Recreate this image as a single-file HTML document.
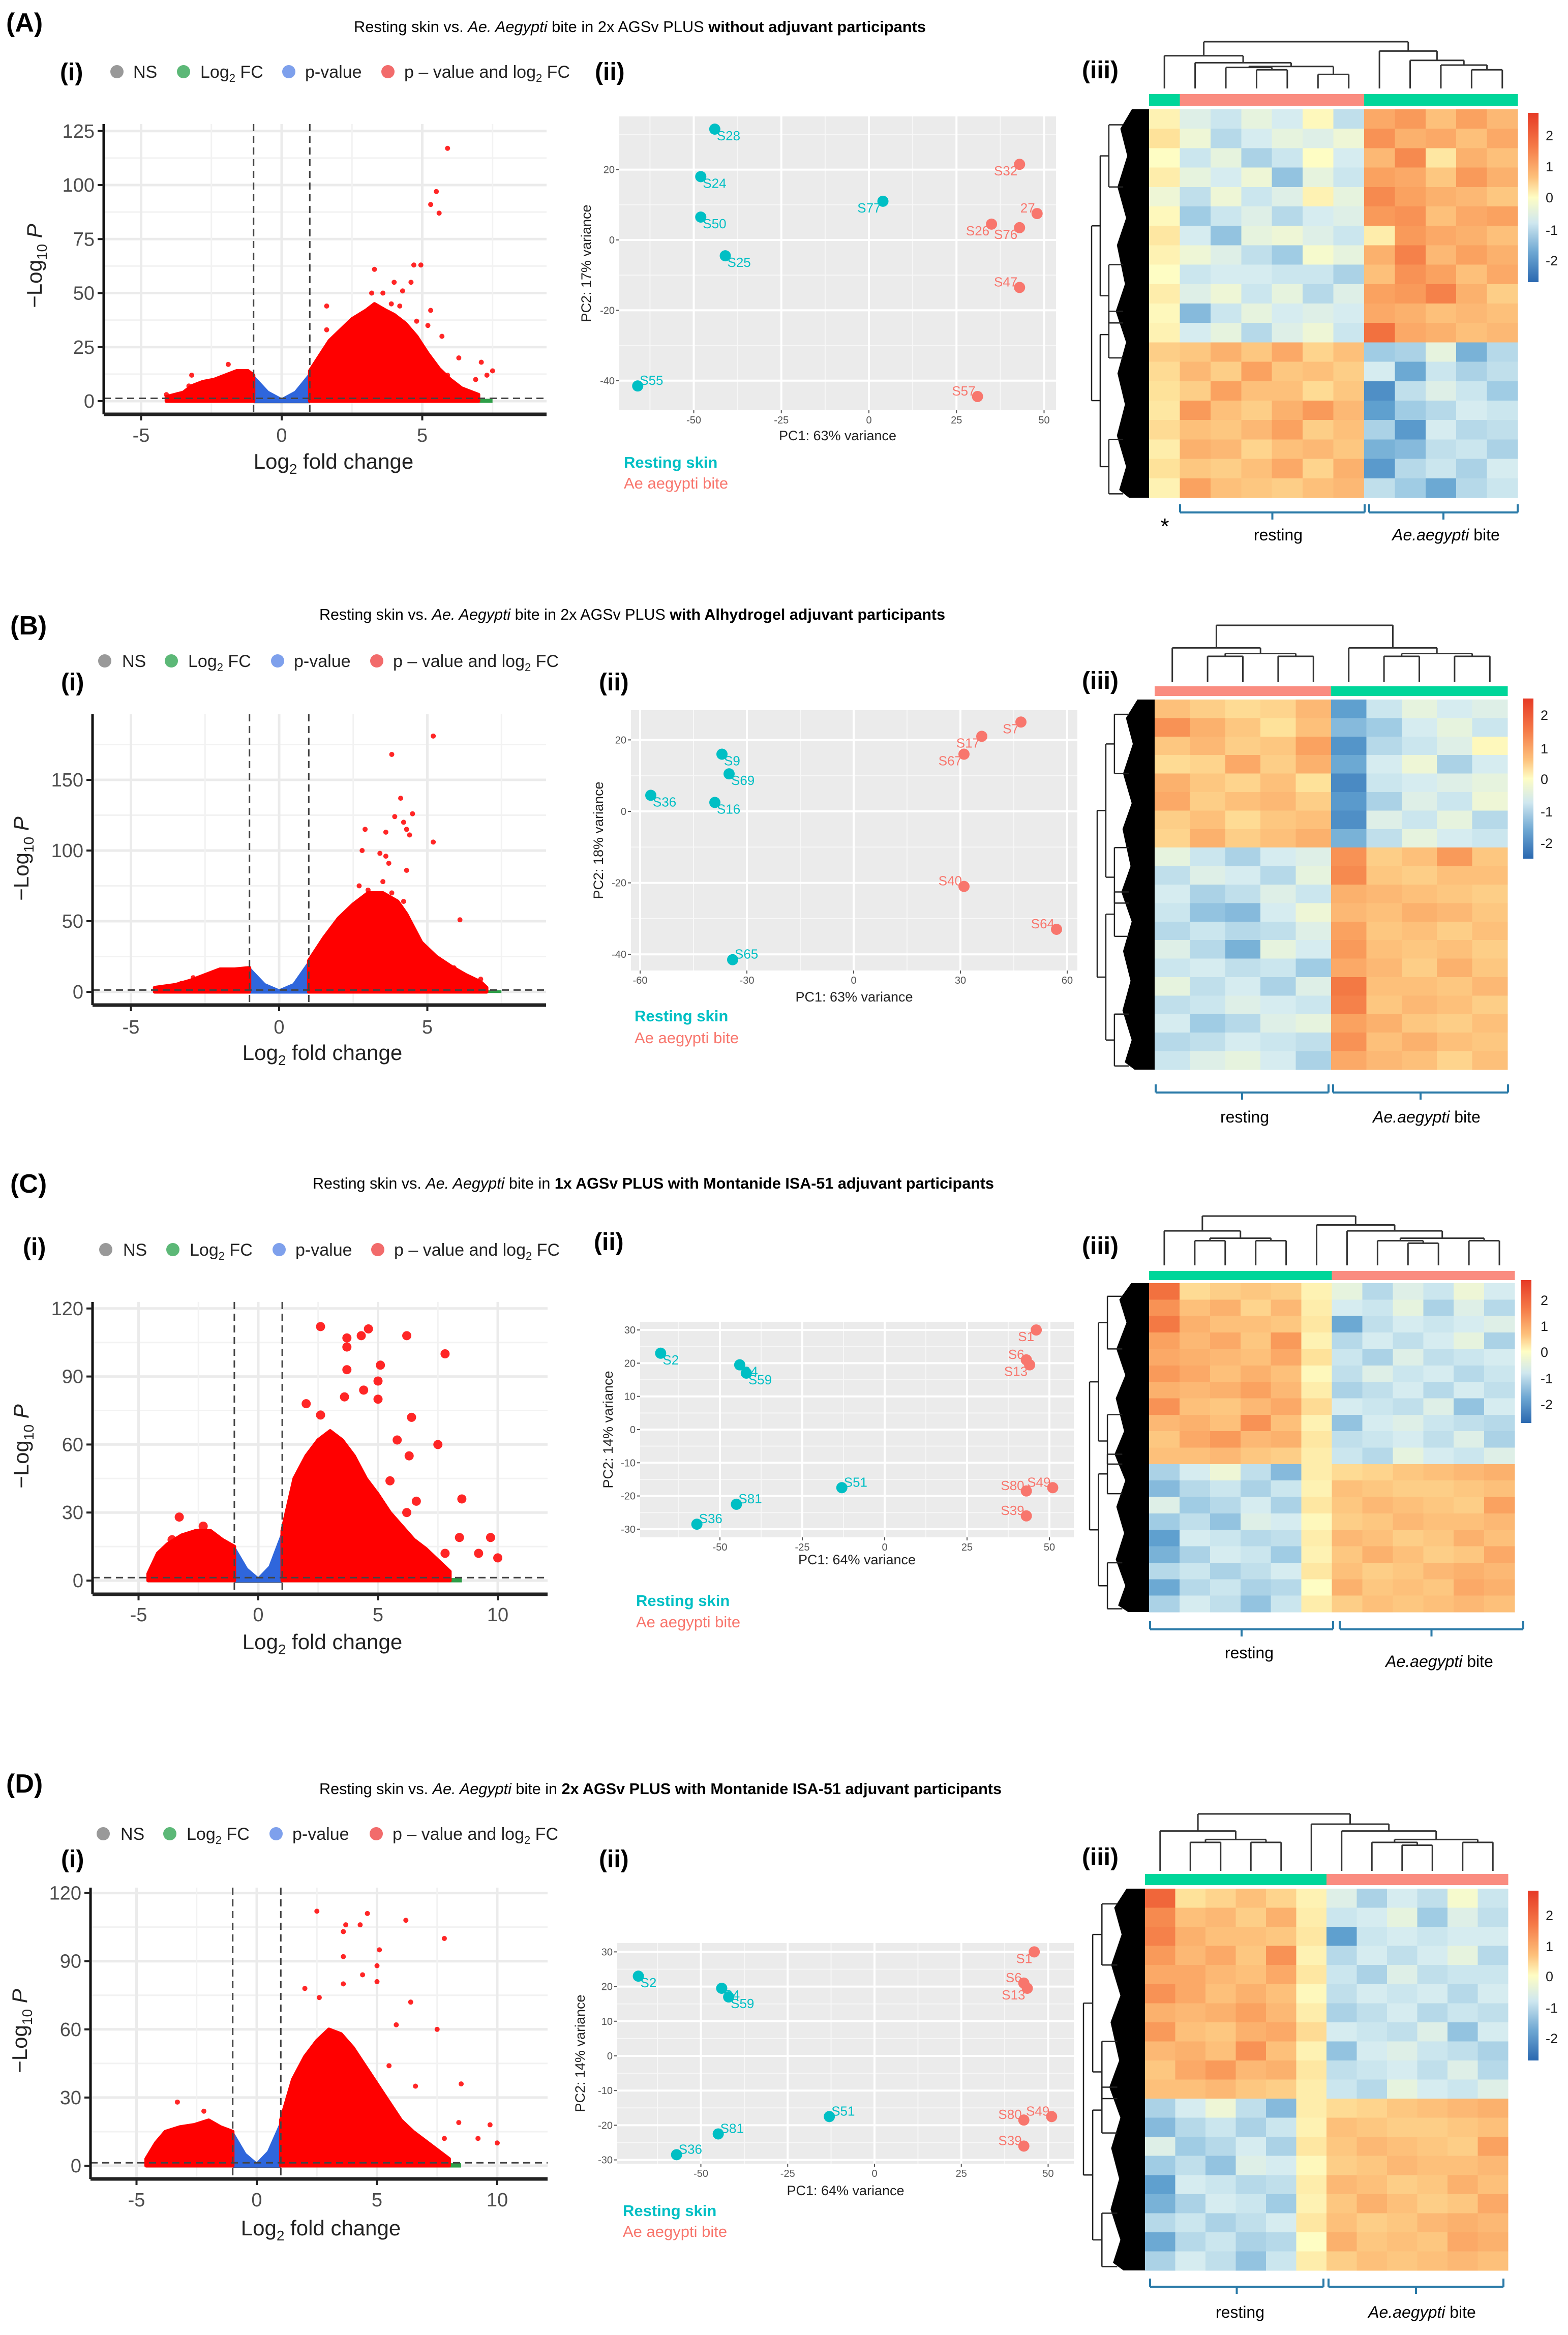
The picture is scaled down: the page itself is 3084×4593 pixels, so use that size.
<!DOCTYPE html>
<html>
<head>
<meta charset="utf-8">
<style>
html,body{margin:0;padding:0;background:#fff;}
svg{display:block;font-family:"Liberation Sans",sans-serif;}
.narrow{font-family:"Liberation Sans Narrow","Liberation Sans",sans-serif;}
</style>
</head>
<body>
<svg id="fig" xmlns="http://www.w3.org/2000/svg" width="3084" height="4593" viewBox="0 0 3084 4593">
<rect x="0" y="0" width="3084" height="4593" fill="#fff"/>

<text x="12" y="62" font-size="52" font-weight="bold">(A)</text>
<text class="narrow" x="696" y="63" font-size="31" textLength="1125" lengthAdjust="spacingAndGlyphs">Resting skin vs. <tspan font-style="italic">Ae. Aegypti</tspan> bite in 2x AGSv PLUS <tspan font-weight="bold">without adjuvant participants</tspan></text>

<text x="20" y="1248" font-size="52" font-weight="bold">(B)</text>
<text class="narrow" x="628" y="1219" font-size="31" textLength="1231" lengthAdjust="spacingAndGlyphs">Resting skin vs. <tspan font-style="italic">Ae. Aegypti</tspan> bite in 2x AGSv PLUS <tspan font-weight="bold">with Alhydrogel adjuvant participants</tspan></text>

<text x="20" y="2346" font-size="52" font-weight="bold">(C)</text>
<text class="narrow" x="615" y="2338" font-size="31" textLength="1340" lengthAdjust="spacingAndGlyphs">Resting skin vs. <tspan font-style="italic">Ae. Aegypti</tspan> bite in <tspan font-weight="bold">1x AGSv PLUS with Montanide ISA-51 adjuvant participants</tspan></text>

<text x="12" y="3526" font-size="52" font-weight="bold">(D)</text>
<text class="narrow" x="628" y="3529" font-size="31" textLength="1342" lengthAdjust="spacingAndGlyphs">Resting skin vs. <tspan font-style="italic">Ae. Aegypti</tspan> bite in <tspan font-weight="bold">2x AGSv PLUS with Montanide ISA-51 adjuvant participants</tspan></text>

<text x="118" y="158" font-size="48" font-weight="bold">(i)</text>
<text x="1170" y="157" font-size="48" font-weight="bold">(ii)</text>
<text x="2128" y="154" font-size="48" font-weight="bold">(iii)</text>
<text x="120" y="1358" font-size="48" font-weight="bold">(i)</text>
<text x="1178" y="1358" font-size="48" font-weight="bold">(ii)</text>
<text x="2128" y="1355" font-size="48" font-weight="bold">(iii)</text>
<text x="45" y="2469" font-size="48" font-weight="bold">(i)</text>
<text x="1168" y="2459" font-size="48" font-weight="bold">(ii)</text>
<text x="2128" y="2467" font-size="48" font-weight="bold">(iii)</text>
<text x="120" y="3673" font-size="48" font-weight="bold">(i)</text>
<text x="1178" y="3673" font-size="48" font-weight="bold">(ii)</text>
<text x="2128" y="3669" font-size="48" font-weight="bold">(iii)</text>

<g class="narrow" font-size="34" fill="#222">
  <circle cx="230" cy="141" r="13" fill="#999"/>
  <text x="262" y="153">NS</text>
  <circle cx="361" cy="141" r="13" fill="#5cb877"/>
  <text x="394" y="153">Log<tspan font-size="22" dy="8">2</tspan><tspan dy="-8"> FC</tspan></text>
  <circle cx="568" cy="141" r="13" fill="#7ea0ec"/>
  <text x="600" y="153">p-value</text>
  <circle cx="763" cy="141" r="13" fill="#f26b6b"/>
  <text x="795" y="153">p – value and log<tspan font-size="22" dy="8">2</tspan><tspan dy="-8"> FC</tspan></text>
</g>
<g class="narrow" font-size="34" fill="#222">
  <circle cx="206" cy="1300" r="13" fill="#999"/>
  <text x="240" y="1312">NS</text>
  <circle cx="337" cy="1300" r="13" fill="#5cb877"/>
  <text x="370" y="1312">Log<tspan font-size="22" dy="8">2</tspan><tspan dy="-8"> FC</tspan></text>
  <circle cx="546" cy="1300" r="13" fill="#7ea0ec"/>
  <text x="578" y="1312">p-value</text>
  <circle cx="741" cy="1300" r="13" fill="#f26b6b"/>
  <text x="773" y="1312">p – value and log<tspan font-size="22" dy="8">2</tspan><tspan dy="-8"> FC</tspan></text>
</g>
<g class="narrow" font-size="34" fill="#222">
  <circle cx="208" cy="2458" r="13" fill="#999"/>
  <text x="242" y="2470">NS</text>
  <circle cx="340" cy="2458" r="13" fill="#5cb877"/>
  <text x="373" y="2470">Log<tspan font-size="22" dy="8">2</tspan><tspan dy="-8"> FC</tspan></text>
  <circle cx="549" cy="2458" r="13" fill="#7ea0ec"/>
  <text x="581" y="2470">p-value</text>
  <circle cx="743" cy="2458" r="13" fill="#f26b6b"/>
  <text x="775" y="2470">p – value and log<tspan font-size="22" dy="8">2</tspan><tspan dy="-8"> FC</tspan></text>
</g>
<g class="narrow" font-size="34" fill="#222">
  <circle cx="203" cy="3607" r="13" fill="#999"/>
  <text x="237" y="3619">NS</text>
  <circle cx="334" cy="3607" r="13" fill="#5cb877"/>
  <text x="367" y="3619">Log<tspan font-size="22" dy="8">2</tspan><tspan dy="-8"> FC</tspan></text>
  <circle cx="543" cy="3607" r="13" fill="#7ea0ec"/>
  <text x="575" y="3619">p-value</text>
  <circle cx="740" cy="3607" r="13" fill="#f26b6b"/>
  <text x="772" y="3619">p – value and log<tspan font-size="22" dy="8">2</tspan><tspan dy="-8"> FC</tspan></text>
</g>

<text x="656" y="922" font-size="42" text-anchor="middle" fill="#222">Log<tspan font-size="28" dy="10">2</tspan><tspan dy="-10"> fold change</tspan></text>
<text transform="translate(82,523) rotate(-90)" font-size="42" text-anchor="middle" fill="#222">−Log<tspan font-size="28" dy="10">10</tspan><tspan dy="-10"> </tspan><tspan font-style="italic">P</tspan></text>
<text x="634" y="2085" font-size="42" text-anchor="middle" fill="#222">Log<tspan font-size="28" dy="10">2</tspan><tspan dy="-10"> fold change</tspan></text>
<text transform="translate(56,1689) rotate(-90)" font-size="42" text-anchor="middle" fill="#222">−Log<tspan font-size="28" dy="10">10</tspan><tspan dy="-10"> </tspan><tspan font-style="italic">P</tspan></text>
<text x="634" y="3244" font-size="42" text-anchor="middle" fill="#222">Log<tspan font-size="28" dy="10">2</tspan><tspan dy="-10"> fold change</tspan></text>
<text transform="translate(56,2845) rotate(-90)" font-size="42" text-anchor="middle" fill="#222">−Log<tspan font-size="28" dy="10">10</tspan><tspan dy="-10"> </tspan><tspan font-style="italic">P</tspan></text>
<text x="631" y="4397" font-size="42" text-anchor="middle" fill="#222">Log<tspan font-size="28" dy="10">2</tspan><tspan dy="-10"> fold change</tspan></text>
<text transform="translate(53,3995) rotate(-90)" font-size="42" text-anchor="middle" fill="#222">−Log<tspan font-size="28" dy="10">10</tspan><tspan dy="-10"> </tspan><tspan font-style="italic">P</tspan></text>

<text x="1227" y="920" font-size="31" font-weight="bold" fill="#00bfc4">Resting skin</text>
<text x="1227" y="961" font-size="31" fill="#f8766d">Ae aegypti bite</text>
<text x="1248" y="2009" font-size="31" font-weight="bold" fill="#00bfc4">Resting skin</text>
<text x="1248" y="2052" font-size="31" fill="#f8766d">Ae aegypti bite</text>
<text x="1251" y="3159" font-size="31" font-weight="bold" fill="#00bfc4">Resting skin</text>
<text x="1251" y="3201" font-size="31" fill="#f8766d">Ae aegypti bite</text>
<text x="1225" y="4359" font-size="31" font-weight="bold" fill="#00bfc4">Resting skin</text>
<text x="1225" y="4400" font-size="31" fill="#f8766d">Ae aegypti bite</text>

<text x="2291" y="1050" font-size="44" text-anchor="middle">*</text>
<text x="2514" y="1063" font-size="32" text-anchor="middle">resting</text>
<text x="2844" y="1063" font-size="32" text-anchor="middle"><tspan font-style="italic">Ae.aegypti</tspan> bite</text>
<text x="2448" y="2208" font-size="32" text-anchor="middle">resting</text>
<text x="2806" y="2208" font-size="32" text-anchor="middle"><tspan font-style="italic">Ae.aegypti</tspan> bite</text>
<text x="2457" y="3262" font-size="32" text-anchor="middle">resting</text>
<text x="2831" y="3279" font-size="32" text-anchor="middle"><tspan font-style="italic">Ae.aegypti</tspan> bite</text>
<text x="2439" y="4559" font-size="32" text-anchor="middle">resting</text>
<text x="2797" y="4559" font-size="32" text-anchor="middle"><tspan font-style="italic">Ae.aegypti</tspan> bite</text>

<defs>
  <linearGradient id="hmgrad" x1="0" y1="0" x2="0" y2="1">
    <stop offset="0" stop-color="#e63a26"/>
    <stop offset="0.2" stop-color="#f57a48"/>
    <stop offset="0.38" stop-color="#fdc07a"/>
    <stop offset="0.5" stop-color="#fefdc4"/>
    <stop offset="0.65" stop-color="#cfe7ef"/>
    <stop offset="0.82" stop-color="#6fa8d3"/>
    <stop offset="1" stop-color="#2a68b0"/>
  </linearGradient>
</defs>
</svg>

<script>
// ================= DATA =================
const volcA_leftX=[-4.1,-3.5,-3.2,-2.8,-2.4,-2,-1.6,-1.2,-1];
const volcA_leftY=[2,4,7,9,10,12,14,14,12];
const volcA_rightX=[1,1.3,1.7,2.1,2.5,3,3.3,3.7,4,4.4,4.8,5.2,5.6,6,6.4,7];
const volcA_rightY=[14,20,28,33,38,42,45,42,40,36,30,22,15,10,6,3];
const volcA_blueX=[-1,-0.5,0,0.5,1];
const volcA_blueY=[11,4,0.5,4,12];
const volcA_ptsX=[5.9,5.5,5.3,5.6,4.7,4.95,3.3,4.0,4.6,1.6,3.2,3.6,4.3,5.3,4.8,1.6,5.2,5.7,6.3,7.1,7.5,7.3,6.9,5.9,-1.9,-3.2,-3.3,-3.7,-4.1,4.2,2.8,3.9];
const volcA_ptsY=[117,97,91,87,63,63,61,55,55,44,50,50,51,42,37,33,35,30,20,18,14,12,10,12,17,12,7,3,3,44,32,45];
const volcA_xTicks=[-5,0,5];
const volcA_yTicks=[0,25,50,75,100,125];

const volcB_leftX=[-4.2,-3.5,-3,-2.5,-2,-1.5,-1];
const volcB_leftY=[3,5,8,12,16,16,17];
const volcB_rightX=[1,1.5,2,2.5,3,3.5,4,4.3,4.8,5.3,5.8,6.3,6.8,7];
const volcB_rightY=[22,38,52,62,70,70,64,55,35,25,18,12,7,3];
const volcB_blueX=[-1,-0.5,0,0.5,1];
const volcB_blueY=[16,5,0.5,5,20];
const volcB_ptsX=[5.2,3.8,4.1,4.5,3.9,4.2,2.9,3.6,4.4,4.3,5.2,2.8,3.4,3.6,3.7,4.3,3.5,6.1,6.8,2.7,3.0,-2.9,-3.3,6.6,6.9,5.9,4.2,3.8];
const volcB_ptsY=[181,168,137,126,124,120,115,113,111,115,106,100,98,96,91,86,78,51,9,75,72,10,6,7,3,17,64,70];
const volcB_xTicks=[-5,0,5];
const volcB_yTicks=[0,50,100,150];

const volcC_leftX=[-4.6,-4.2,-3.8,-3.2,-2.6,-2,-1.5,-1];
const volcC_leftY=[3,12,16,20,22,22,18,15];
const volcC_rightX=[1,1.5,2,2.5,3,3.5,4,4.5,5,5.5,6,6.5,7,7.5,8];
const volcC_rightY=[22,45,55,62,66,62,55,45,38,30,24,18,14,9,4];
const volcC_blueX=[-1,-0.5,0,0.5,1];
const volcC_blueY=[14,5,0.5,6,20];
const volcC_ptsX=[2.6,4.6,4.3,3.7,6.2,3.7,7.8,3.7,5.1,5.0,4.4,3.6,5.0,2.0,2.6,6.4,7.5,5.8,6.3,8.5,8.4,9.7,10,9.2,7.8,-3.3,-2.3,-3.6,-2.7,6.6,6.2,5.5];
const volcC_ptsY=[112,111,108,107,108,103,100,93,95,88,84,81,80,78,73,72,60,62,55,36,19,19,10,12,12,28,24,18,20,35,30,44];
const volcC_xTicks=[-5,0,5,10];
const volcC_yTicks=[0,30,60,90,120];

const volcD_leftX=[-4.6,-4.2,-3.8,-3.2,-2.6,-2,-1.5,-1];
const volcD_leftY=[3,10,15,17,18,20,17,15];
const volcD_rightX=[1,1.5,2,2.5,3,3.5,4,4.5,5,5.5,6,6.5,7,7.5,8];
const volcD_rightY=[20,38,48,55,60,58,52,44,36,28,20,15,11,7,3];
const volcD_blueX=[-1,-0.5,0,0.5,1];
const volcD_blueY=[14,5,0.5,6,18];
const volcD_ptsX=[2.5,4.6,4.3,3.7,6.2,3.6,7.8,3.6,5.1,5.0,4.4,3.6,5.0,2.0,2.6,6.4,7.5,5.8,8.5,8.4,9.7,10,9.2,7.8,-3.3,-2.2,6.6,5.5];
const volcD_ptsY=[112,111,106,106,108,103,100,92,95,88,84,80,81,78,74,72,60,62,36,19,18,10,12,12,28,24,35,44];
const volcD_xTicks=[-5,0,5,10];
const volcD_yTicks=[0,30,60,90,120];

const pcaA_names=["S28","S24","S50","S25","S77","S55","S32","27","S26","S76","S47","S57"];
const pcaA_pc1=[-44,-48,-48,-41,4,-66,43,48,35,43,43,31];
const pcaA_pc2=[31.5,18,6.5,-4.5,11,-41.5,21.5,7.5,4.5,3.5,-13.5,-44.5];
const pcaA_group=["r","r","r","r","r","r","b","b","b","b","b","b"];
const pcaA_side=["r","r","r","r","l","ru","l","lu","l","l","lu","lu"];
const pcaA_xTicks=[-50,-25,0,25,50];
const pcaA_yTicks=[-40,-20,0,20];

const pcaB_names=["S7","S17","S67","S9","S69","S36","S16","S40","S64","S65"];
const pcaB_pc1=[47,36,31,-37,-35,-57,-39,31,57,-34];
const pcaB_pc2=[25,21,16,16,10.5,4.5,2.5,-21,-33,-41.5];
const pcaB_group=["b","b","b","r","r","r","r","b","b","r"];
const pcaB_side=["l","l","l","r","r","r","r","lu","lu","ru"];
const pcaB_xTicks=[-60,-30,0,30,60];
const pcaB_yTicks=[-40,-20,0,20];

const pcaC_names=["S1","S2","S4","S59","S6","S13","S51","S80","S49","S81","S39","S36"];
const pcaC_pc1=[46,-68,-44,-42,43,44,-13,43,51,-45,43,-57];
const pcaC_pc2=[30,23,19.5,17,21,19.5,-17.5,-18.5,-17.5,-22.5,-26,-28.5];
const pcaC_group=["b","r","r","r","b","b","r","b","b","r","b","r"];
const pcaC_side=["l","r","r","r","lu","l","ru","lu","lu","ru","lu","ru"];
const pcaC_xTicks=[-50,-25,0,25,50];
const pcaC_yTicks=[-30,-20,-10,0,10,20,30];

const pcaD_names=["S1","S2","S4","S59","S6","S13","S51","S80","S49","S81","S39","S36"];
const pcaD_pc1=[46,-68,-44,-42,43,44,-13,43,51,-45,43,-57];
const pcaD_pc2=[30,23,19.5,17,21,19.5,-17.5,-18.5,-17.5,-22.5,-26,-28.5];
const pcaD_group=["b","r","r","r","b","b","r","b","b","r","b","r"];
const pcaD_side=["l","r","r","r","lu","l","ru","lu","lu","ru","lu","ru"];
const pcaD_xTicks=[-50,-25,0,25,50];
const pcaD_yTicks=[-30,-20,-10,0,10,20,30];

const hmA_groups=["t","s","s","s","s","s","s","t","t","t","t","t"];
const hmA_values=[
[0.2,-0.4,-0.6,-0.3,-0.5,0.1,-0.7,1.3,1.5,1.0,1.4,1.1],
[0.5,-0.2,-0.8,-0.5,-0.3,-0.4,-0.2,1.6,1.2,1.3,1.0,1.3],
[0.0,-0.6,-0.3,-0.9,-0.6,0.0,-0.5,1.1,1.7,0.4,1.2,1.0],
[0.3,-0.3,-0.5,-0.2,-1.1,-0.3,-0.6,1.4,1.3,0.9,1.5,1.2],
[-0.2,-0.7,-0.2,-0.6,-0.4,0.2,-0.3,1.7,1.4,1.2,1.1,0.9],
[0.1,-1.0,-0.6,-0.4,-0.8,-0.5,-0.4,1.5,1.6,1.0,1.3,1.4],
[0.4,-0.5,-1.1,-0.3,-0.2,-0.4,-0.6,0.3,1.5,1.3,1.2,1.0],
[0.2,-0.2,-0.4,-0.7,-1.0,-0.1,-0.3,1.2,1.8,1.1,1.4,1.2],
[0.0,-0.6,-0.5,-0.5,-0.6,-0.6,-0.9,1.0,1.6,1.4,1.0,1.3],
[0.3,-0.4,-0.2,-0.6,-0.3,-0.8,-0.4,1.4,1.5,1.8,1.2,0.8],
[0.1,-1.2,-0.6,-0.3,-0.5,-0.4,-0.5,1.3,1.2,1.0,1.1,1.0],
[0.2,-0.5,-0.3,-0.8,-0.4,-0.2,-0.6,2.0,1.3,1.2,1.0,1.1],
[0.8,0.9,1.2,0.9,1.3,0.7,1.0,-1.0,-0.9,-0.3,-1.3,-0.8],
[0.6,1.1,0.8,1.4,0.9,1.0,0.8,-0.5,-1.4,-0.6,-0.9,-0.7],
[0.5,0.8,1.4,1.0,1.0,0.6,0.9,-1.8,-0.7,-0.4,-0.6,-1.0],
[0.4,1.5,1.0,0.8,1.2,1.5,1.1,-1.5,-1.0,-0.8,-0.5,-0.6],
[0.6,1.0,0.9,1.1,1.4,0.8,1.0,-0.9,-1.6,-0.5,-0.8,-0.7],
[0.3,1.2,1.1,0.7,1.0,1.1,0.9,-1.3,-1.2,-0.7,-0.6,-0.9],
[0.5,0.9,0.8,1.0,1.3,0.7,1.2,-1.6,-0.8,-0.6,-0.9,-0.5],
[0.2,1.4,1.0,0.9,0.8,1.0,1.1,-0.7,-1.0,-1.4,-0.8,-0.6]];
const hmA_merges=[[-6,-7,0.3],[-4,-5,0.4],[-3,2,0.45],[3,1,0.47],[-2,4,0.55],[-1,5,0.7],[-11,-12,0.4],[-10,7,0.5],[-9,8,0.6],[-8,9,0.8],[6,10,1.0]];

const hmB_groups=["s","s","s","s","s","t","t","t","t","t"];
const hmB_values=[
[1.0,0.8,0.6,0.7,1.1,-1.5,-0.6,-0.3,-0.5,-0.4],
[1.6,1.2,0.9,0.5,1.0,-1.2,-1.0,-0.5,-0.3,-0.6],
[0.9,1.1,0.8,0.9,1.4,-1.7,-0.8,-0.6,-0.4,0.1],
[0.6,0.7,1.3,0.8,1.2,-1.4,-0.5,-0.2,-0.9,-0.5],
[1.2,0.9,0.7,1.0,0.5,-1.9,-0.6,-0.5,-0.4,-0.3],
[1.3,0.8,1.0,1.1,0.8,-1.6,-0.9,-0.4,-0.6,-0.2],
[0.8,1.0,0.6,0.9,1.0,-1.8,-0.4,-0.6,-0.3,-0.8],
[0.7,1.2,0.8,1.0,1.2,-1.3,-0.7,-0.3,-0.5,-0.6],
[-0.3,-0.6,-0.9,-0.5,-0.4,1.6,0.8,1.0,1.5,0.9],
[-0.7,-0.4,-0.5,-0.8,-0.3,1.7,0.9,0.8,1.0,1.0],
[-0.5,-0.9,-0.7,-0.4,-0.6,1.2,1.1,1.0,0.9,0.8],
[-0.6,-1.1,-1.2,-0.5,-0.2,1.1,1.0,1.2,1.1,0.9],
[-0.8,-0.6,-0.8,-0.7,-0.4,1.4,0.9,1.0,0.8,1.0],
[-0.4,-0.8,-1.3,-0.3,-0.5,1.5,1.0,0.9,1.0,0.8],
[-0.6,-0.5,-0.7,-0.6,-1.0,1.3,1.1,0.8,1.2,0.9],
[-0.3,-0.7,-0.5,-0.9,-0.4,1.9,1.0,1.0,0.9,1.1],
[-0.7,-0.6,-0.4,-0.5,-0.6,1.8,0.9,1.1,1.0,0.8],
[-0.5,-1.0,-0.8,-0.4,-0.3,1.4,1.2,0.9,0.8,1.0],
[-0.8,-0.7,-0.5,-0.6,-0.7,1.6,1.0,1.2,1.0,0.9],
[-0.6,-0.4,-0.3,-0.5,-0.9,1.3,1.1,1.0,0.7,1.0]];
const hmB_merges=[[-2,-3,0.45],[-4,-5,0.45],[1,2,0.5],[-1,3,0.6],[-7,-8,0.45],[-9,-10,0.45],[5,6,0.5],[-6,7,0.6],[4,8,1.0]];

const hmC_groups=["t","t","t","t","t","t","s","s","s","s","s","s"];
const hmC_values=[
[2.0,0.6,0.8,0.9,0.8,0.2,-0.3,-0.8,-0.4,-0.6,-0.2,-0.5],
[1.6,1.0,1.2,0.7,1.1,0.3,-0.5,-0.6,-0.3,-0.9,-0.4,-0.8],
[1.9,1.2,1.0,1.0,0.9,0.4,-1.4,-0.7,-0.5,-0.6,-0.5,-0.4],
[1.4,1.1,1.3,0.9,1.5,0.2,-0.8,-0.5,-0.7,-0.5,-0.3,-0.9],
[1.3,1.2,1.1,1.0,1.3,0.5,-0.6,-0.9,-0.4,-0.7,-0.6,-0.5],
[1.5,1.3,1.0,1.2,1.0,0.1,-0.7,-0.4,-0.6,-0.5,-0.8,-0.6],
[1.2,1.1,1.2,1.4,1.1,0.3,-0.9,-0.7,-0.5,-0.8,-0.5,-0.7],
[1.6,1.0,0.9,1.1,1.3,0.6,-0.5,-0.6,-0.7,-0.4,-1.1,-0.5],
[1.1,1.2,1.0,1.6,1.0,0.2,-1.1,-0.5,-0.4,-0.6,-0.7,-0.8],
[0.9,1.3,1.5,1.1,1.2,0.4,-0.7,-0.6,-0.5,-0.7,-0.4,-0.9],
[1.0,1.0,1.1,0.9,0.8,0.3,-0.6,-0.8,-0.3,-0.5,-0.6,-0.4],
[-0.9,-0.5,-0.2,-0.7,-1.2,0.3,0.6,0.7,0.9,1.0,1.1,1.2],
[-1.2,-0.8,-0.6,-0.9,-0.6,0.2,1.0,0.9,0.8,0.8,0.9,1.0],
[-0.4,-1.0,-0.8,-0.5,-0.9,0.4,0.9,1.1,1.0,0.9,0.8,1.4],
[-1.0,-0.7,-1.1,-0.4,-0.5,0.1,0.8,0.9,1.1,1.0,1.0,1.1],
[-1.5,-0.5,-0.6,-0.8,-0.7,0.3,1.1,1.0,0.8,0.9,1.2,1.0],
[-1.3,-0.9,-0.5,-0.6,-1.0,0.2,0.9,1.2,1.0,0.8,0.9,1.3],
[-0.8,-0.6,-0.9,-0.7,-0.5,0.4,1.0,0.8,0.9,1.1,1.2,1.1],
[-1.4,-0.8,-0.6,-0.9,-0.8,0.0,1.2,0.9,1.0,0.9,1.3,1.2],
[-0.9,-0.5,-0.7,-1.1,-0.6,0.3,0.8,1.0,0.9,1.0,1.1,1.0]];
const hmC_merges=[[-2,-3,0.5],[-4,-5,0.5],[1,2,0.55],[-1,3,0.7],[-9,-10,0.45],[-8,5,0.5],[-11,-12,0.5],[6,7,0.55],[-7,8,0.7],[-6,9,0.82],[4,10,1.0]];

const hmD_groups=["t","t","t","t","t","t","s","s","s","s","s","s"];
const hmD_values=[
[2.1,0.5,0.7,1.0,0.7,0.2,-0.4,-0.9,-0.5,-0.7,-0.1,-0.6],
[1.7,1.0,1.1,0.8,1.2,0.3,-0.6,-0.5,-0.3,-1.0,-0.4,-0.7],
[1.8,1.2,1.0,1.0,0.9,0.4,-1.5,-0.6,-0.5,-0.6,-0.5,-0.5],
[1.5,1.1,1.3,0.9,1.6,0.2,-0.8,-0.5,-0.7,-0.5,-0.3,-0.8],
[1.3,1.3,1.1,1.0,1.3,0.4,-0.6,-0.9,-0.4,-0.7,-0.6,-0.6],
[1.6,1.3,1.0,1.2,1.0,0.1,-0.7,-0.5,-0.6,-0.5,-0.8,-0.5],
[1.2,1.1,1.2,1.4,1.1,0.3,-0.9,-0.7,-0.5,-0.8,-0.6,-0.7],
[1.5,1.0,0.9,1.2,1.3,0.6,-0.5,-0.6,-0.7,-0.4,-1.1,-0.5],
[1.1,1.2,1.0,1.6,1.0,0.2,-1.1,-0.5,-0.4,-0.6,-0.7,-0.9],
[0.9,1.3,1.5,1.1,1.2,0.4,-0.7,-0.6,-0.5,-0.7,-0.4,-0.8],
[1.0,1.0,1.1,0.9,0.8,0.3,-0.6,-0.8,-0.3,-0.5,-0.6,-0.4],
[-0.9,-0.5,-0.2,-0.7,-1.2,0.3,0.6,0.7,0.9,1.0,1.1,1.2],
[-1.2,-0.8,-0.6,-0.9,-0.6,0.2,1.0,0.9,0.8,0.8,0.9,1.0],
[-0.4,-1.0,-0.8,-0.5,-0.9,0.4,0.9,1.1,1.0,0.9,0.8,1.4],
[-1.0,-0.7,-1.1,-0.4,-0.5,0.1,0.8,0.9,1.1,1.0,1.0,1.1],
[-1.5,-0.5,-0.6,-0.8,-0.7,0.3,1.1,1.0,0.8,0.9,1.2,1.0],
[-1.3,-0.9,-0.5,-0.6,-1.0,0.2,0.9,1.2,1.0,0.8,0.9,1.3],
[-0.8,-0.6,-0.9,-0.7,-0.5,0.4,1.0,0.8,0.9,1.1,1.2,1.1],
[-1.4,-0.8,-0.6,-0.9,-0.8,0.0,1.2,0.9,1.0,0.9,1.3,1.2],
[-0.9,-0.5,-0.7,-1.1,-0.6,0.3,0.8,1.0,0.9,1.0,1.1,1.0]];
const hmD_merges=[[-2,-3,0.5],[-4,-5,0.5],[1,2,0.55],[-1,3,0.7],[-9,-10,0.45],[-8,5,0.5],[-11,-12,0.5],[6,7,0.55],[-7,8,0.7],[-6,9,0.82],[4,10,1.0]];

const hm_legendTicks=[2,1,0,-1,-2];

// ================= DRAWING =================
const NS='http://www.w3.org/2000/svg';
const svg=document.getElementById('fig');
function mk(tag,parent,attrs){const e=document.createElementNS(NS,tag);for(const k in attrs)e.setAttribute(k,attrs[k]);parent.appendChild(e);return e;}
function line(p,x1,y1,x2,y2,st,w,extra){const a={x1:x1,y1:y1,x2:x2,y2:y2,stroke:st,'stroke-width':w};if(extra)for(const k in extra)a[k]=extra[k];return mk('line',p,a);}

function drawVolcano(cfg,leftX,leftY,rightX,rightY,blueX,blueY,ptsX,ptsY,xTicks,yTicks){
  const sx=v=>cfg.x0+v*cfg.ux, sy=v=>cfg.y0-v*cfg.uy;
  const g=mk('g',svg,{});
  
  
  const grid=mk('g',g,{});
  
  
  const ys=yTicks[1]-yTicks[0];
  yTicks.forEach(t=>{const y=sy(t);if(y>=cfg.T&&y<=cfg.B)line(grid,cfg.L,y,cfg.R,y,'#ebebeb',5);
    const ym=sy(t+ys/2);if(ym>=cfg.T&&ym<=cfg.B)line(grid,cfg.L,ym,cfg.R,ym,'#f2f2f2',3);});
  const xs=xTicks[1]-xTicks[0];
  const allx=[xTicks[0]-xs].concat(xTicks).concat([xTicks[xTicks.length-1]+xs]);
  allx.forEach(t=>{const x=sx(t);if(x>=cfg.L&&x<=cfg.R)line(grid,x,cfg.T,x,cfg.B,'#ebebeb',5);
    const xm=sx(t+xs/2);if(xm>=cfg.L&&xm<=cfg.R)line(grid,xm,cfg.T,xm,cfg.B,'#f2f2f2',3);});
  const gb=mk('rect',g,{x:sx(leftX[0]),y:sy(1.1),width:sx(rightX[rightX.length-1]+0.5)-sx(leftX[0]),height:sy(-0.8)-sy(1.1),fill:'#2e9e48'});
  
  
  const nb=mk('rect',g,{x:sx(-1),y:sy(0.9),width:sx(1)-sx(-1),height:sy(-1)-sy(0.9),fill:'#4a4a4a'});
  
  
  function poly(X,Y,fill,name){
    const pts=X.map((x,i)=>sx(x)+','+sy(Y[i]));
    pts.push(sx(X[X.length-1])+','+sy(0));pts.push(sx(X[0])+','+sy(0));
    const p=mk('polygon',g,{points:pts.join(' '),fill:fill,stroke:fill,'stroke-width':7,'stroke-linejoin':'round'});
    
    
  }
  poly(blueX,blueY,'#2f66dc','pvalue-only-points');
  poly(leftX,leftY,'#ff0000','down-regulated-points');
  poly(rightX,rightY,'#ff0000','up-regulated-points');
  ptsX.forEach((x,i)=>{
    const c=mk('circle',g,{cx:sx(x),cy:sy(ptsY[i]),r:cfg.ptR,fill:'#ff0000','fill-opacity':0.85});
    
    
  });
  const d1=line(g,sx(-1),cfg.T,sx(-1),cfg.B,'#444',3,{'stroke-dasharray':'14,9'});
  
  
  const d2=line(g,sx(1),cfg.T,sx(1),cfg.B,'#444',3,{'stroke-dasharray':'14,9'});
  
  
  const d3=line(g,cfg.L,sy(1.3),cfg.R,sy(1.3),'#444',3,{'stroke-dasharray':'14,9'});
  
  
  const ax=line(g,cfg.L,cfg.T,cfg.L,cfg.B,'#111',5);
  
  
  const bx=line(g,cfg.L,cfg.B,cfg.R,cfg.B,'#222',7);
  
  
  yTicks.forEach(t=>{const y=sy(t);line(g,cfg.L-12,y,cfg.L,y,'#222',4);
    const tx=mk('text',g,{x:cfg.L-18,y:y+13,'font-size':38,'text-anchor':'end',fill:'#4d4d4d'});tx.textContent=t;
    
    });
  xTicks.forEach(t=>{const x=sx(t);line(g,x,cfg.B,x,cfg.B+12,'#222',4);
    const tx=mk('text',g,{x:x,y:cfg.tickLabelY+13,'font-size':38,'text-anchor':'middle',fill:'#4d4d4d'});tx.textContent=t;
    
    });
}

function drawPCA(cfg,names,pc1,pc2,grp,side,xTicks,yTicks){
  const sx=v=>cfg.x0+v*cfg.ux, sy=v=>cfg.y0-v*cfg.uy;
  const g=mk('g',svg,{});
  
  
  const bg=mk('rect',g,{x:cfg.L,y:cfg.T,width:cfg.R-cfg.L,height:cfg.B-cfg.T,fill:'#ebebeb'});
  
  
  const xs=xTicks[1]-xTicks[0], ysS=yTicks[1]-yTicks[0];
  [xTicks[0]-xs].concat(xTicks).forEach(t=>{const xm=sx(t+xs/2);if(xm>cfg.L&&xm<cfg.R)line(g,xm,cfg.T,xm,cfg.B,'#f7f7f7',2);});
  [yTicks[0]-ysS].concat(yTicks).forEach(t=>{const ym=sy(t+ysS/2);if(ym>cfg.T&&ym<cfg.B)line(g,cfg.L,ym,cfg.R,ym,'#f7f7f7',2);});
  xTicks.forEach(t=>{const x=sx(t);line(g,x,cfg.T,x,cfg.B,'#fff',4);line(g,x,cfg.B,x,cfg.B+6,'#555',2);
    const tx=mk('text',g,{x:x,y:cfg.B+26,'font-size':20,'text-anchor':'middle',fill:'#555'});tx.textContent=t;
    
    });
  yTicks.forEach(t=>{const y=sy(t);line(g,cfg.L,y,cfg.R,y,'#fff',4);line(g,cfg.L-6,y,cfg.L,y,'#555',2);
    const tx=mk('text',g,{x:cfg.L-9,y:y+7,'font-size':20,'text-anchor':'end',fill:'#555'});tx.textContent=t;
    
    });
  const xt=mk('text',g,{x:(cfg.L+cfg.R)/2,y:cfg.xtY+9,'font-size':27,'text-anchor':'middle',fill:'#222'});xt.textContent=cfg.xtitle;
  
  
  const yt=mk('text',g,{transform:'translate('+(cfg.ytX+9)+','+((cfg.T+cfg.B)/2)+') rotate(-90)','font-size':27,'text-anchor':'middle',fill:'#222'});yt.textContent=cfg.ytitle;
  
  
  names.forEach((n,i)=>{
    const col=grp[i]==='r'?'#00bfc4':'#f8766d';
    const x=sx(pc1[i]),y=sy(pc2[i]);
    const c=mk('circle',g,{cx:x,cy:y,r:11,fill:col});
    
    
    const s=side[i];
    const lx=(s[0]==='r')?x+4:x-4;
    const ly=(s.length>1)?y-2:y+22;
    const t=mk('text',g,{x:lx,y:ly,'font-size':26,fill:col,'text-anchor':s[0]==='r'?'start':'end'});
    t.textContent=n;
    
    
  });
}

const hmStops=[[-2.5,[42,104,176]],[-1.5,[95,160,207]],[-1,[160,204,228]],[-0.5,[214,236,240]],[0,[254,253,196]],[0.5,[254,226,154]],[1,[253,192,122]],[1.5,[249,154,90]],[2,[242,113,63]],[2.5,[230,58,38]]];
function hmColor(v){
  if(v<=hmStops[0][0])return 'rgb('+hmStops[0][1].join(',')+')';
  for(let i=1;i<hmStops.length;i++){if(v<=hmStops[i][0]){const a=hmStops[i-1],b=hmStops[i];const f=(v-a[0])/(b[0]-a[0]);
    return 'rgb('+a[1].map((c,k)=>Math.round(c+(b[1][k]-c)*f)).join(',')+')';}}
  return 'rgb('+hmStops[hmStops.length-1][1].join(',')+')';
}

function drawHeatmap(cfg,groups,values,merges){
  const g=mk('g',svg,{});
  
  
  const nc=groups.length, nr=values.length;
  const cw=(cfg.R-cfg.L)/nc, rh=(cfg.Bt-cfg.T)/nr;
  const cells=mk('g',g,{'shape-rendering':'crispEdges'});
  
  
  values.forEach((row,r)=>row.forEach((v,c)=>{
    const rc=mk('rect',cells,{x:cfg.L+c*cw,y:cfg.T+r*rh,width:cw+0.6,height:rh+0.6,fill:hmColor(v)});
    
    
  }));
  groups.forEach((gr,c)=>{
    const b=mk('rect',g,{x:cfg.L+c*cw,y:cfg.cbT,width:cw+0.6,height:cfg.cbB-cfg.cbT,fill:gr==='t'?'#00d69a':'#fa8c80','shape-rendering':'crispEdges'});
    
    
  });
  const dg=mk('g',g,{});
  
  
  const pos=[],hy=h=>cfg.dTip-h*(cfg.dTip-cfg.dTop);
  function node(id){if(id<0)return {x:cfg.L+(-id-0.5)*cw,y:cfg.dTip};return pos[id-1];}
  merges.forEach(m=>{const a=node(m[0]),b=node(m[1]);const y=hy(m[2]);
    line(dg,a.x,a.y,a.x,y,'#333',3);line(dg,b.x,b.y,b.x,y,'#333',3);line(dg,a.x,y,b.x,y,'#333',3);
    pos.push({x:(a.x+b.x)/2,y:y});});
  const rg=mk('g',g,{});
  
  
  const H=cfg.Bt-cfg.T, W=cfg.L-cfg.dendL;
  const edge=[[0,0.3],[0.05,0.5],[0.12,0.38],[0.2,0.55],[0.28,0.4],[0.35,0.56],[0.45,0.42],[0.52,0.58],[0.6,0.4],[0.68,0.55],[0.76,0.42],[0.84,0.56],[0.92,0.4],[0.98,0.52],[1,0.35]];
  const pts=[[cfg.L,cfg.T]].concat(edge.map(e=>[cfg.L-W*e[1],cfg.T+H*e[0]])).concat([[cfg.L,cfg.Bt]]);
  const dense=mk('polygon',rg,{fill:'#000',points:pts.map(p=>p.join(',')).join(' ')});
  
  
  const lx0=cfg.dendL, lx1=cfg.dendL+W*0.15, lx2=cfg.dendL+W*0.3;
  const yA=cfg.T+H*0.3, yB=cfg.T+H*0.75;
  line(rg,lx0,yA,lx0,yB,'#222',2.5);line(rg,lx0,yA,lx1,yA,'#222',2.5);line(rg,lx0,yB,lx1,yB,'#222',2.5);
  line(rg,lx1,cfg.T+H*0.12,lx1,cfg.T+H*0.48,'#222',2.5);line(rg,lx1,cfg.T+H*0.58,lx1,cfg.T+H*0.92,'#222',2.5);
  [0.12,0.48,0.58,0.92].forEach(f=>line(rg,lx1,cfg.T+H*f,lx2,cfg.T+H*f,'#222',2.5));
  [[0.04,0.2],[0.4,0.55],[0.52,0.64],[0.85,0.99]].forEach(p=>{line(rg,lx2,cfg.T+H*p[0],lx2,cfg.T+H*p[1],'#222',2.5);
    line(rg,lx2,cfg.T+H*p[0],cfg.L-W*0.45,cfg.T+H*p[0],'#222',2.5);line(rg,lx2,cfg.T+H*p[1],cfg.L-W*0.45,cfg.T+H*p[1],'#222',2.5);});
  const lg=mk('rect',g,{x:cfg.legX,y:cfg.legT,width:21,height:cfg.legB-cfg.legT,fill:'url(#hmgrad)'});
  
  
  hm_legendTicks.forEach((t,i)=>{
    const tx=mk('text',g,{x:cfg.legLabX,y:cfg.legLabY[i]+10,'font-size':27,fill:'#222'});tx.textContent=t;
    
    
  });
  [cfg.br1,cfg.br2].forEach((b,k)=>{
    const bg=mk('g',g,{});
    
    
    const y=cfg.brY+16;
    line(bg,b[0],y,b[1],y,'#2a7aa8',4);line(bg,b[0],y,b[0],cfg.brY,'#2a7aa8',4);line(bg,b[1],y,b[1],cfg.brY,'#2a7aa8',4);
    line(bg,(b[0]+b[1])/2,y,(b[0]+b[1])/2,y+14,'#2a7aa8',4);
  });
}

drawVolcano({name:'volcano-a',x0:554,ux:55.3,y0:789,uy:4.25,L:204,T:244,R:1075,B:815,tickLabelY:856,ptR:5},
  volcA_leftX,volcA_leftY,volcA_rightX,volcA_rightY,volcA_blueX,volcA_blueY,volcA_ptsX,volcA_ptsY,volcA_xTicks,volcA_yTicks);
drawVolcano({name:'volcano-b',x0:549,ux:58.3,y0:1951,uy:2.78,L:182,T:1405,R:1074,B:1977,tickLabelY:2020,ptR:5},
  volcB_leftX,volcB_leftY,volcB_rightX,volcB_rightY,volcB_blueX,volcB_blueY,volcB_ptsX,volcB_ptsY,volcB_xTicks,volcB_yTicks);
drawVolcano({name:'volcano-c',x0:508,ux:47.1,y0:3109,uy:4.46,L:182,T:2561,R:1077,B:3136,tickLabelY:3176,ptR:9},
  volcC_leftX,volcC_leftY,volcC_rightX,volcC_rightY,volcC_blueX,volcC_blueY,volcC_ptsX,volcC_ptsY,volcC_xTicks,volcC_yTicks);
drawVolcano({name:'volcano-d',x0:505,ux:47.3,y0:4260,uy:4.47,L:178,T:3713,R:1077,B:4286,tickLabelY:4327,ptR:5},
  volcD_leftX,volcD_leftY,volcD_rightX,volcD_rightY,volcD_blueX,volcD_blueY,volcD_ptsX,volcD_ptsY,volcD_xTicks,volcD_yTicks);

drawPCA({name:'pca-a',x0:1709,ux:6.89,y0:472,uy:6.92,L:1218,T:229,R:2077,B:807,xtitle:'PC1: 63% variance',ytitle:'PC2: 17% variance',xtY:857,ytX:1153},
  pcaA_names,pcaA_pc1,pcaA_pc2,pcaA_group,pcaA_side,pcaA_xTicks,pcaA_yTicks);
drawPCA({name:'pca-b',x0:1679,ux:7.0,y0:1596,uy:7.03,L:1241,T:1397,R:2119,B:1909,xtitle:'PC1: 63% variance',ytitle:'PC2: 18% variance',xtY:1961,ytX:1177},
  pcaB_names,pcaB_pc1,pcaB_pc2,pcaB_group,pcaB_side,pcaB_xTicks,pcaB_yTicks);
drawPCA({name:'pca-c',x0:1740,ux:6.48,y0:2812,uy:6.53,L:1259,T:2600,R:2112,B:3024,xtitle:'PC1: 64% variance',ytitle:'PC2: 14% variance',xtY:3068,ytX:1196},
  pcaC_names,pcaC_pc1,pcaC_pc2,pcaC_group,pcaC_side,pcaC_xTicks,pcaC_yTicks);
drawPCA({name:'pca-d',x0:1720,ux:6.83,y0:4044,uy:6.82,L:1214,T:3822,R:2112,B:4256,xtitle:'PC1: 64% variance',ytitle:'PC2: 14% variance',xtY:4309,ytX:1141},
  pcaD_names,pcaD_pc1,pcaD_pc2,pcaD_group,pcaD_side,pcaD_xTicks,pcaD_yTicks);

drawHeatmap({name:'heatmap-a',L:2260,R:2985,T:215,Bt:979,cbT:185,cbB:208,dTop:82,dTip:174,dendL:2147,legX:3005,legT:222,legB:555,legLabY:[266,327,388,452,512],legLabX:3040,br1:[2321,2684],br2:[2693,2985],brY:992},
  hmA_groups,hmA_values,hmA_merges);
drawHeatmap({name:'heatmap-b',L:2271,R:2965,T:1376,Bt:2104,cbT:1350,cbB:1369,dTop:1230,dTip:1341,dendL:2158,legX:2995,legT:1374,legB:1689,legLabY:[1406,1472,1532,1596,1658],legLabX:3030,br1:[2273,2613],br2:[2622,2966],brY:2133},
  hmB_groups,hmB_values,hmB_merges);
drawHeatmap({name:'heatmap-c',L:2260,R:2979,T:2524,Bt:3171,cbT:2500,cbB:2518,dTop:2392,dTip:2489,dendL:2143,legX:2991,legT:2518,legB:2799,legLabY:[2557,2608,2659,2711,2762],legLabX:3030,br1:[2262,2622],br2:[2635,2996],brY:3189},
  hmC_groups,hmC_values,hmC_merges);
drawHeatmap({name:'heatmap-d',L:2252,R:2966,T:3715,Bt:4466,cbT:3686,cbB:3708,dTop:3568,dTip:3680,dendL:2131,legX:3005,legT:3719,legB:4053,legLabY:[3767,3828,3887,3949,4009],legLabX:3040,br1:[2262,2603],br2:[2613,2957],brY:4482},
  hmD_groups,hmD_values,hmD_merges);
</script>
</body>
</html>
